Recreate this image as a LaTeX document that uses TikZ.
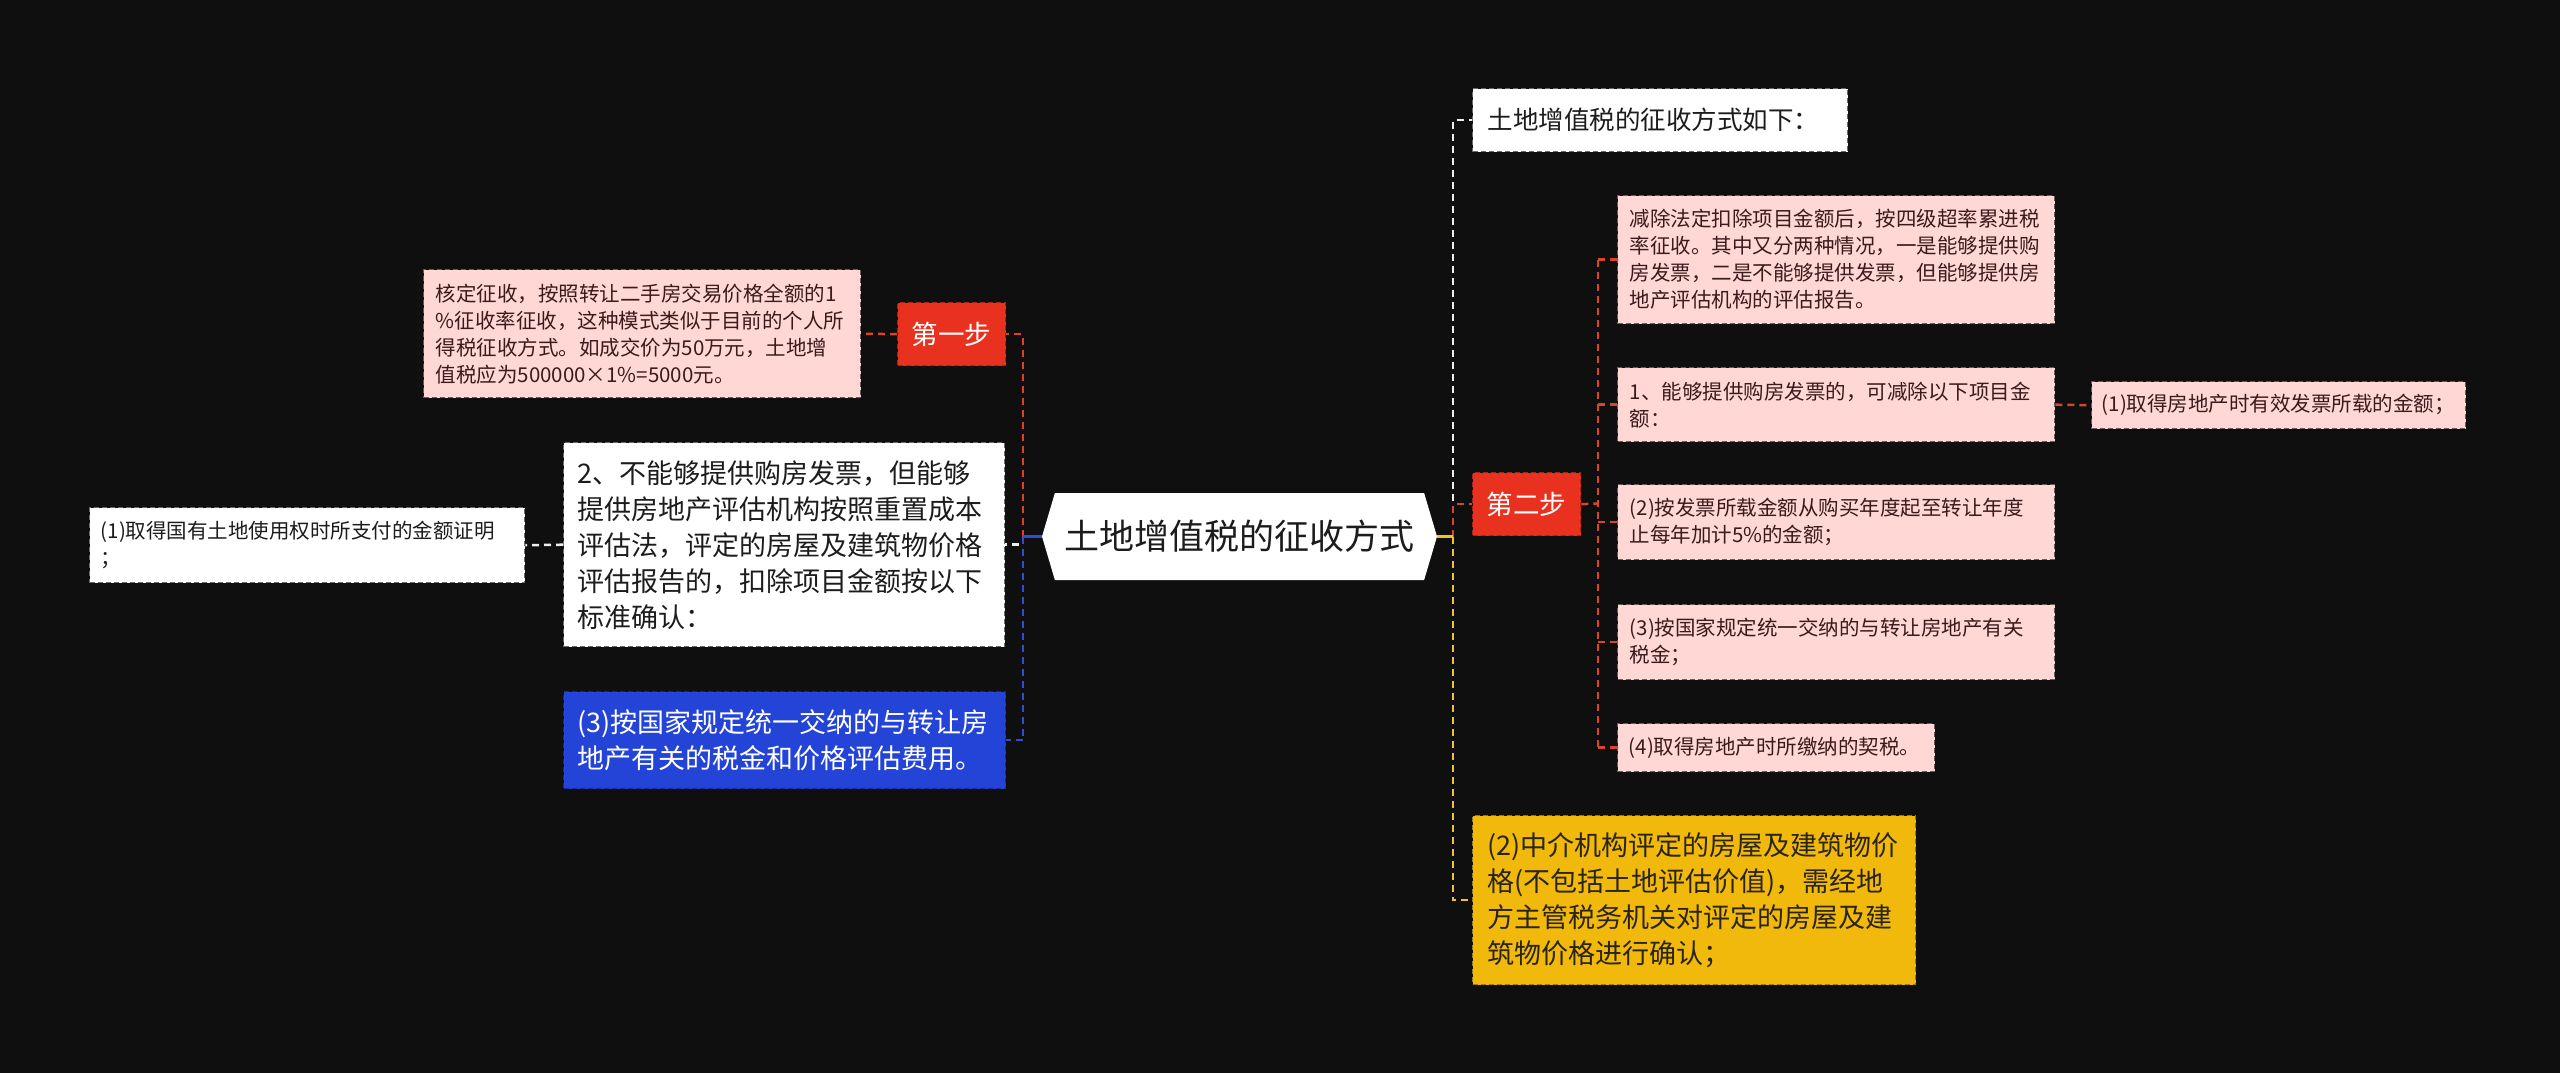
\documentclass[tikz,border=0pt]{standalone}
\usepackage{fontspec}
\usepackage{xcolor}
\usepackage{tikz}
\usetikzlibrary{positioning,shapes.symbols}
\newfontfamily\cjk{Noto Sans CJK SC}
\definecolor{bgdark}{HTML}{0F0F0F}
\definecolor{inkdark}{HTML}{1C1C1C}
\definecolor{pinkfill}{HTML}{FFD8D6}
\definecolor{pinkedge}{HTML}{6B5A5A}
\definecolor{pinkink}{HTML}{3A1A1A}
\definecolor{whiteedge}{HTML}{6A6A6A}
\definecolor{redfill}{HTML}{E8321F}
\definecolor{rededge}{HTML}{A82416}
\definecolor{bluefill}{HTML}{2444D8}
\definecolor{blueedge}{HTML}{142A9A}
\definecolor{yellowfill}{HTML}{F1B90C}
\definecolor{yellowedge}{HTML}{A07A00}
\definecolor{yellowink}{HTML}{2A2414}
\definecolor{linkred}{HTML}{D8452F}
\definecolor{linkwhite}{HTML}{EEEEEE}
\definecolor{linkblue}{HTML}{2D4EDC}
\definecolor{linkyellow}{HTML}{F2C22A}
\tikzset{
  box/.style={rectangle, anchor=north west, align=left, line width=1.4pt, dash pattern=on 5pt off 3pt},
  pinkbox/.style={box, fill=pinkfill, draw=pinkedge, text=pinkink, inner xsep=12pt, inner ysep=4pt, font=\cjk\fontsize{20.5}{27}\selectfont},
  whitebox/.style={box, fill=white, draw=whiteedge, text=inkdark, inner xsep=14pt, inner ysep=4pt, font=\cjk\fontsize{27}{36}\selectfont},
  smallwhite/.style={whitebox, inner xsep=11pt, font=\cjk\fontsize{20.5}{27}\selectfont},
  bluebox/.style={whitebox, fill=bluefill, draw=blueedge, text=white},
  yellowbox/.style={whitebox, inner xsep=15pt, fill=yellowfill, draw=yellowedge, text=yellowink},
  stepbox/.style={box, align=center, fill=redfill, draw=rededge, text=white, inner sep=0pt, minimum width=108pt, minimum height=63pt, font=\cjk\fontsize{26.5}{30}\selectfont},
  rootnode/.style={signal, signal to=east and west, signal pointer angle=147, fill=white, draw=none, inner sep=0pt, minimum width=395pt, minimum height=87pt, text=inkdark, font=\cjk\fontsize{35}{40}\selectfont},
  link/.style={line width=2.5pt, dash pattern=on 7pt off 5pt},
  redlink/.style={link, draw=linkred},
  whitelink/.style={link, draw=linkwhite},
  bluelink/.style={link, draw=linkblue},
  yellowlink/.style={link, draw=linkyellow}
}
\begin{document}
\begin{tikzpicture}[x=1pt, y=-1pt]
  \useasboundingbox (0,0) rectangle (2560,1073);
  \fill[bgdark] (0,0) rectangle (2560,1073);

  % centre
  \node[rootnode] (root) at (1239.5,536.5) {土地增值税的征收方式};
  \coordinate (ltrunk) at (1023,536.5);
  \coordinate (rtrunk) at (1453,536.5);

  % left side
  \node[stepbox] (step1) at (897,302) {第一步};
  \node[pinkbox, text width=413pt, minimum height=128pt] (rule1) at (423,269)
    {核定征收，按照转让二手房交易价格全额的1\\\%征收率征收，这种模式类似于目前的个人所\\得税征收方式。如成交价为50万元，土地增\\值税应为500000×1\%=5000元。};
  \node[whitebox, text width=413pt, minimum height=204pt] (way2) at (563,442)
    {2、不能够提供购房发票，但能够\\提供房地产评估机构按照重置成本\\评估法，评定的房屋及建筑物价格\\评估报告的，扣除项目金额按以下\\标准确认：};
  \node[smallwhite, text width=413pt, minimum height=75pt] (land1) at (89,507)
    {(1)取得国有土地使用权时所支付的金额证明\\；};
  \node[bluebox, text width=414pt, minimum height=97pt] (tax3) at (563,691)
    {(3)按国家规定统一交纳的与转让房\\地产有关的税金和价格评估费用。};

  % right side
  \node[whitebox, inner xsep=15pt, font=\cjk\fontsize{25.5}{30}\selectfont, text width=345pt, minimum height=63pt] (howto) at (1472,88)
    {土地增值税的征收方式如下：};
  \node[stepbox] (step2) at (1472,472) {第二步};
  \coordinate (strunk) at (1598,503.5);
  \node[pinkbox, text width=413pt, minimum height=128pt] (cases) at (1617,195)
    {减除法定扣除项目金额后，按四级超率累进税\\率征收。其中又分两种情况，一是能够提供购\\房发票，二是不能够提供发票，但能够提供房\\地产评估机构的评估报告。};
  \node[pinkbox, text width=413pt, minimum height=74pt] (way1) at (1617,367)
    {1、能够提供购房发票的，可减除以下项目金\\额：};
  \node[pinkbox, inner xsep=10pt, text width=354pt, minimum height=47pt] (fee1) at (2091,381)
    {(1)取得房地产时有效发票所载的金额；};
  \node[pinkbox, text width=413pt, minimum height=75pt] (fee2) at (1617,484)
    {(2)按发票所载金额从购买年度起至转让年度\\止每年加计5\%的金额；};
  \node[pinkbox, text width=413pt, minimum height=75pt] (fee3) at (1617,604)
    {(3)按国家规定统一交纳的与转让房地产有关\\税金；};
  \node[pinkbox, inner xsep=11pt, text width=295pt, minimum height=48pt] (fee4) at (1617,723)
    {(4)取得房地产时所缴纳的契税。};
  \node[yellowbox, text width=413pt, minimum height=169pt] (agency) at (1472,815)
    {(2)中介机构评定的房屋及建筑物价\\格(不包括土地评估价值)，需经地\\方主管税务机关对评定的房屋及建\\筑物价格进行确认；};

  % links
  \draw[redlink] (ltrunk) |- (step1.east);
  \draw[redlink] (step1.west) -- (rule1.east);
  \draw[whitelink] (ltrunk) |- (way2.east);
  \draw[whitelink] (way2.west) -- (land1.east);
  \draw[bluelink] (ltrunk) |- (tax3.east);
  \draw[linkblue, line width=2.5pt] (root.west) -- (ltrunk);

  \draw[whitelink] (rtrunk) |- (howto.west);
  \draw[redlink] (rtrunk) |- (step2.west);
  \draw[yellowlink] (rtrunk) |- (agency.west);
  \draw[linkyellow, line width=2.5pt] (root.east) -- (rtrunk);

  \draw[redlink] (step2.east) -- (strunk);
  \draw[redlink] (cases.west -| strunk) -- (fee4.west -| strunk);
  \foreach \n in {cases,way1,fee2,fee3,fee4}
    \draw[redlink] (\n.west -| strunk) -- (\n.west);
  \draw[redlink] (way1.east) -- (fee1.west);
\end{tikzpicture}
\end{document}
